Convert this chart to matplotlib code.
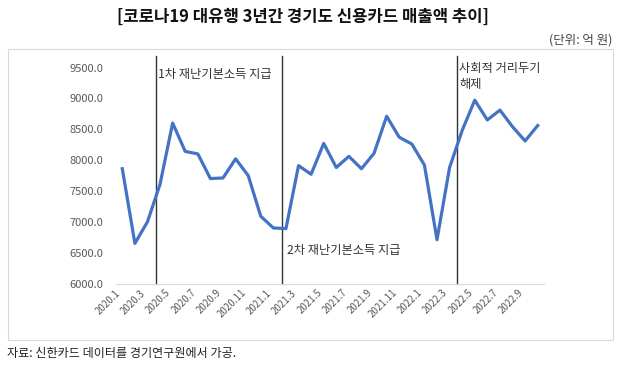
import matplotlib.pyplot as plt
from matplotlib.patches import Rectangle

plt.rcParams['font.family'] = ['Noto Sans CJK KR', 'DejaVu Sans']

# monthly card sales (100 million won)
months = [f'{y}.{m}' for y in (2020, 2021, 2022) for m in range(1, 13)][:34]
sales = [7860, 6650, 7000, 7610, 8600, 8140, 8100, 7700, 7710, 8020,
         7750, 7090, 6900, 6890, 7910, 7770, 8270, 7880, 8060, 7860,
         8110, 8710, 8370, 8260, 7920, 6710, 7880, 8480, 8970, 8650,
         8810, 8540, 8310, 8560]
yticks = [6000, 6500, 7000, 7500, 8000, 8500, 9000, 9500]

# event markers (position between months) and their labels
event_pos = [2.65, 12.7, 26.55]
event_text = ['1차 재난기본소득 지급', '2차 재난기본소득 지급', '사회적 거리두기\n해제']

W, H = 623, 374
fig = plt.figure(figsize=(W / 100, H / 100), dpi=100)

# light frame around the chart
fig.patches.append(Rectangle((8 / W, 1 - 340 / H), (613 - 8) / W, (340 - 49) / H,
                             transform=fig.transFigure, fill=False,
                             edgecolor='#d9d9d9', linewidth=0.8))

ax = fig.add_axes([116 / W, 1 - 283.5 / H, (544 - 116) / W, (283.5 - 67.5) / H])
x = list(range(len(sales)))
ax.plot(x, sales, color='#4472C4', linewidth=2.3, solid_joinstyle='round', zorder=3)

ax.set_xlim(-0.5, len(sales) - 0.5)
ax.set_ylim(6000, 9500)
ax.set_yticks(yticks)
ax.set_yticklabels([f'{v:.1f}' for v in yticks])
ax.set_xticks(x[::2])
ax.set_xticklabels(months[::2], rotation=45, ha='right', va='top')
ax.tick_params(axis='both', length=0, colors='#595959', labelsize=7)
ax.tick_params(axis='y', pad=9, labelsize=8)
ax.tick_params(axis='x', pad=3)

for s in ['top', 'right', 'left']:
    ax.spines[s].set_visible(False)
ax.spines['bottom'].set_color('#d9d9d9')
ax.spines['bottom'].set_linewidth(0.8)

# vertical event lines, they go a bit above the plot area
for p in event_pos:
    ax.plot([p, p], [6000, 9690], color='#333333', linewidth=1.0, clip_on=False, zorder=2)

ax.text(2.84, 9390, event_text[0], fontsize=8.8, color='#333333', va='center')
ax.text(13.06, 6540, event_text[1], fontsize=8.8, color='#333333', va='center')
ax.text(26.77, 9350, event_text[2], fontsize=8.8, color='#333333', va='center',
        linespacing=1.3)

fig.text(303 / W, 1 - 17 / H, '[코로나19 대유행 3년간 경기도 신용카드 매출액 추이]',
         ha='center', va='center', fontsize=12, fontweight='bold', color='#111111')
fig.text(612 / W, 1 - 40 / H, '(단위: 억 원)', ha='right', va='center',
         fontsize=9, color='#444444')
fig.text(7 / W, 1 - 354 / H, '자료: 신한카드 데이터를 경기연구원에서 가공.',
         ha='left', va='center', fontsize=8.7, color='#222222')

fig.savefig('out.png', dpi=100)
